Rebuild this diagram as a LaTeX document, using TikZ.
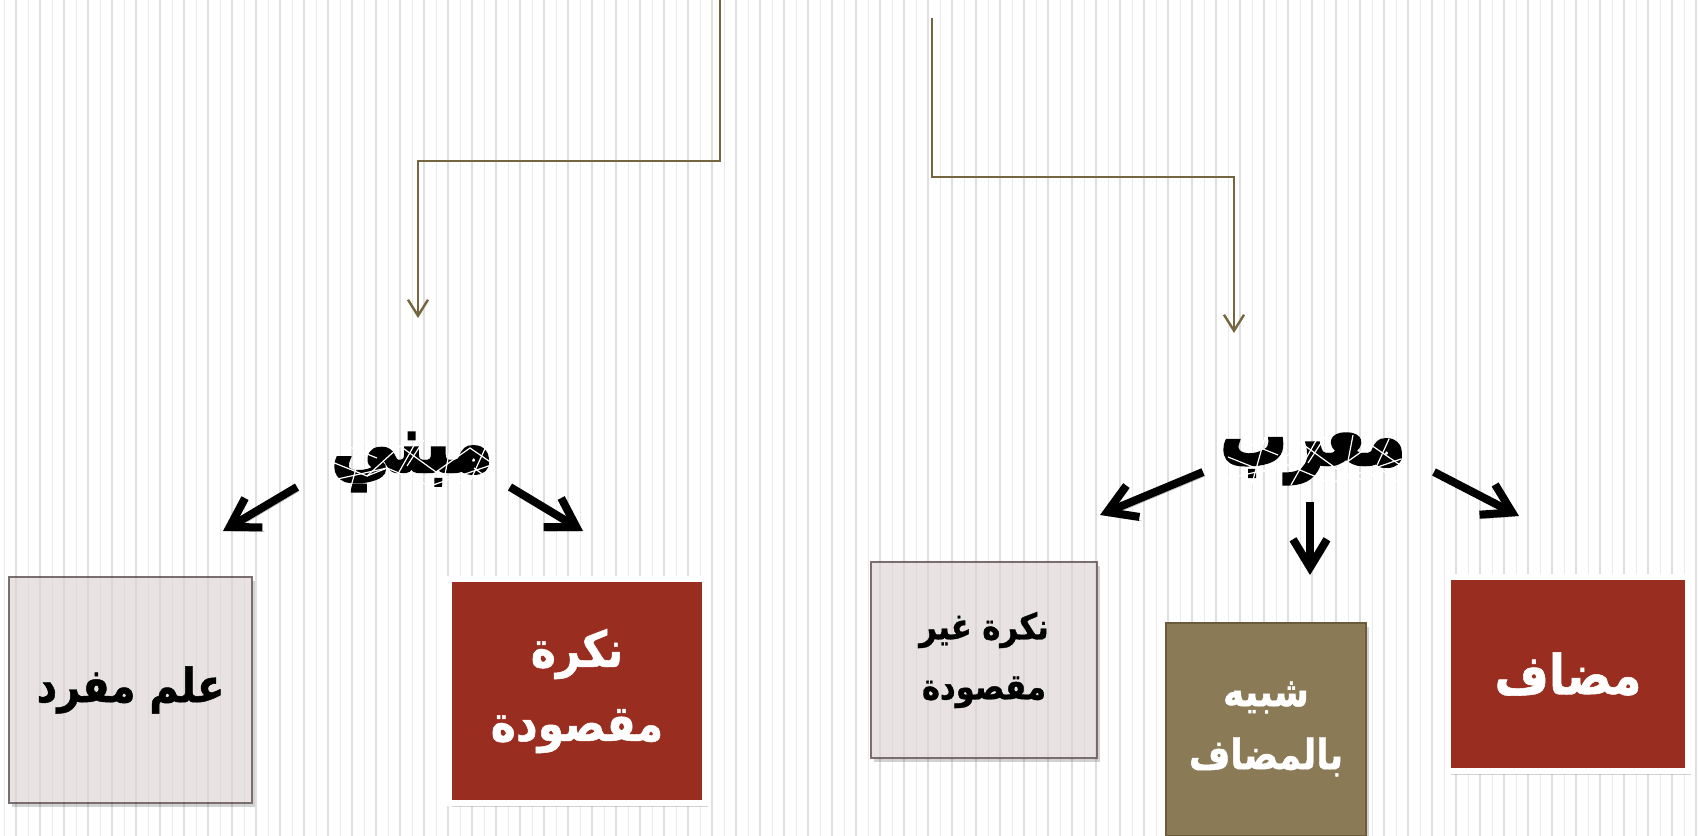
\documentclass[tikz,border=0pt]{standalone}
\usepackage{fontspec}
\usepackage{xcolor}
\usepackage{tikz}
\usetikzlibrary{arrows.meta, positioning, shadows}
\TeXXeTstate=1
\newfontfamily\arabicfont[Script=Arabic, FakeStretch=0.85, FakeBold=1]{DejaVu Sans}
\newfontfamily\titlefont[Script=Arabic, FakeStretch=0.82, FakeBold=4]{DejaVu Sans}

\definecolor{stripegray}{HTML}{DFDFDF}
\definecolor{stripelight}{HTML}{EAEAEA}
\definecolor{linebrown}{HTML}{76663F}
\definecolor{boxred}{HTML}{992D1F}
\definecolor{boxolive}{HTML}{8A7A56}
\definecolor{olivedark}{HTML}{6B5B3B}
\definecolor{boxgray}{HTML}{E8E2E2}
\definecolor{graydark}{HTML}{7B6E6E}

% white cracks over a title, in coordinates round its centre
\newcommand{\cracklines}{%
    \draw[crack] (-85,-2) -- (-45,14) -- (-12,-16) -- (24,10) -- (58,-14) -- (90,8);
    \draw[crack] (-88,20) -- (-25,6) -- (18,24) -- (88,0);
    \draw[crack] (-62,28) -- (-48,-22);
    \draw[crack] (-22,26) -- (4,-20);
    \draw[crack] (30,28) -- (40,-24);
    \draw[crack] (56,24) -- (76,-20);
    \draw[crack] (-45,14) -- (-25,6);
    \draw[crack] (24,10) -- (56,24);
    \draw[crack] (-70,-18) -- (-35,-4);
    \draw[crack] (-5,4) -- (12,-22);
    \draw[crack] (62,6) -- (84,22);
}

\begin{document}
\begin{tikzpicture}[x=0.5pt, y=-0.5pt,
    stripe/.style={stripegray, line width=1.1pt},
    thinstripe/.style={stripelight, line width=0.5pt},
    crack/.style={white, line width=0.6pt},
    flow/.style={linebrown, line width=1.2pt, -{Straight Barb[length=8pt, width=10pt]}},
    bigarrow/.style={black, line width=4pt, -{Straight Barb[length=14pt, width=17pt]},
        preaction={draw=black, opacity=0.25, transform canvas={xshift=1pt, yshift=-2pt}}},
    txt/.style 2 args={font=\arabicfont\bfseries\fontsize{#1}{#2}\selectfont},
    title/.style={font=\titlefont\bfseries\fontsize{40}{48}\selectfont, text=black, inner sep=0pt},
    box/.style={rectangle, align=center, inner sep=0pt,
        drop shadow={opacity=0.35, shadow xshift=1.5pt, shadow yshift=-2pt}},
    lightbox/.style={box, draw=graydark, line width=1pt, fill=boxgray, text=black},
    redbox/.style={box, draw=white, line width=3pt, fill=boxred, text=white},
    olivebox/.style={box, draw=olivedark, line width=1pt, fill=boxolive, text=white}]

    \useasboundingbox (0,0) rectangle (1699,836);
    \fill[white] (0,0) rectangle (1699,836);

    % Background stripes
    \foreach \x in {4,28,...,1696}
        \draw[thinstripe] (\x,0) -- (\x,836);
    \foreach \x in {16,40,...,1696}
        \draw[stripe] (\x,0) -- (\x,836);

    % Titles
    \node[title] (mabni) at (412,462) {\beginR مبني\endR};
    \node[title] (murab) at (1313,459) {\beginR معرب\endR};
    \foreach \t in {mabni, murab} {
        \begin{scope}
            \clip (\t.south west) rectangle (\t.north east);
            \begin{scope}[shift={(\t.center)}]
                \cracklines
            \end{scope}
        \end{scope}
    }

    % Boxes under mabni
    \node[lightbox, minimum width=121.5pt, minimum height=113pt, txt={23.5}{32}] (ilm) at (130.5,690) {\beginR علم مفرد\endR};
    \node[redbox, minimum width=128pt, minimum height=112pt, txt={25}{37}] (nakira) at (577,691) {\beginR نكرة\endR\\\beginR مقصودة\endR};

    % Boxes under murab
    \node[lightbox, minimum width=113pt, minimum height=98pt, txt={18}{30}] (ghayr) at (984,660) {\beginR نكرة غير\endR\\\beginR مقصودة\endR};
    \node[olivebox, minimum width=100pt, minimum height=106.5pt, txt={21}{31.5}] (shabih) at (1266,729) {\beginR شبيه\endR\\\beginR بالمضاف\endR};
    \node[redbox, minimum width=120pt, minimum height=97pt, txt={27.5}{34}] (mudaf) at (1568,674) {\beginR مضاف\endR};

    % Stripes seen through the light boxes
    \foreach \b in {ilm, ghayr} {
        \begin{scope}
            \clip (\b.south west) rectangle (\b.north east);
            \foreach \x in {16,40,...,1696}
                \draw[black, opacity=0.05, line width=1.1pt] (\x,0) -- (\x,836);
            \foreach \x in {4,28,...,1696}
                \draw[black, opacity=0.03, line width=0.5pt] (\x,0) -- (\x,836);
        \end{scope}
    }

    % Brown connectors from the top
    \coordinate (mabniTop) at (720,0);
    \coordinate (mabniIn) at (418,318);
    \coordinate (murabTop) at (932,18);
    \coordinate (murabIn) at (1234,333);
    \draw[flow] (mabniTop) -- ++(0,161) -| (mabniIn);
    \draw[flow] (murabTop) -- ++(0,159) -| (murabIn);

    % Black arrows
    \coordinate (ilmFrom) at (297,487);
    \coordinate (ilmTo) at (223,531);
    \coordinate (nakiraFrom) at (510,487);
    \coordinate (nakiraTo) at (583,531);
    \coordinate (ghayrFrom) at (1203,472);
    \coordinate (ghayrTo) at (1100,515);
    \coordinate (shabihFrom) at (1310,502);
    \coordinate (shabihTo) at (1310,575);
    \coordinate (mudafFrom) at (1434,472);
    \coordinate (mudafTo) at (1519,516);
    \foreach \a in {ilm, nakira, ghayr, shabih, mudaf}
        \draw[bigarrow] (\a From) -- (\a To);
\end{tikzpicture}
\end{document}
